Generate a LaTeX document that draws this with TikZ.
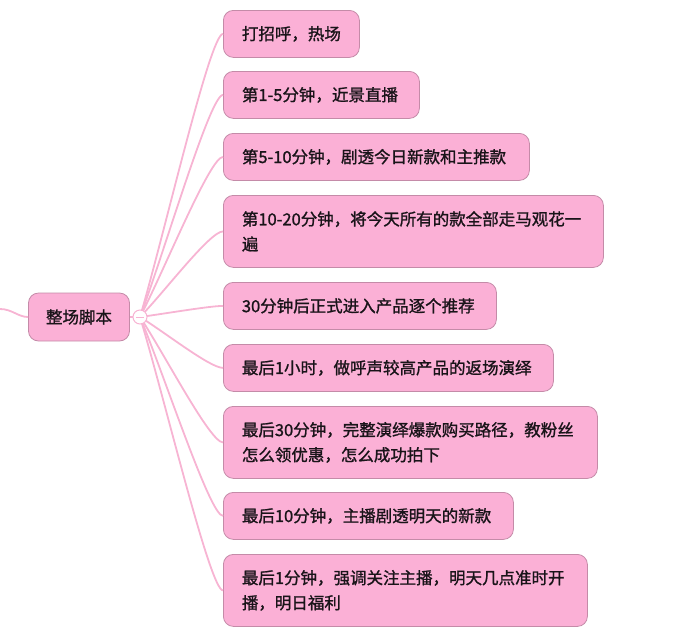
\documentclass[tikz,border=0pt]{standalone}
\usepackage{fontspec}
\setmainfont{Noto Sans CJK SC}[FakeBold=1.2]
\usetikzlibrary{calc}
\definecolor{boxfill}{RGB}{251,176,214}
\definecolor{boxline}{RGB}{196,139,168}
\definecolor{linkcol}{RGB}{247,180,211}
\definecolor{txt}{RGB}{25,20,25}
\tikzset{
  topic/.style={draw=boxline, line width=0.8pt, fill=boxfill, rounded corners=10pt,
    inner xsep=0pt, inner ysep=0pt, text width=#1, align=left, anchor=north west,
    font=\fontsize{16.5pt}{25pt}\selectfont, text=txt},
  onel/.style={minimum height=47pt},
  twol/.style={minimum height=72pt},
  link/.style={draw=linkcol, line width=1.8pt},
}
\begin{document}
\begin{tikzpicture}[x=1pt,y=-1pt]
\useasboundingbox (0,0) rectangle (690,635);
% root
\node[draw=boxline, line width=0.8pt, fill=boxfill, rounded corners=10pt,
  minimum width=101pt, minimum height=48pt, inner sep=0pt,
  font=\fontsize{16.5pt}{20pt}\selectfont, text=txt] (root) at (79,317) {整场脚本};
\coordinate (cc) at (140,317);
\coordinate (lft) at (0,309);
\newcommand{\child}[5]{% name, ytop, width, height-style, text
  \node[topic=#3pt-37pt, #4, inner xsep=18.5pt] (#1) at (223,#2) {#5};}
\child{b1}{10}{136}{onel}{打招呼，热场}
\child{b2}{71}{196}{onel}{第1-5分钟，近景直播}
\child{b3}{133}{306}{onel}{第5-10分钟，剧透今日新款和主推款}
\child{b4}{195}{380}{twol}{第10-20分钟，将今天所有的款全部走马观花一\\遍}
\child{b5}{282}{273}{onel}{30分钟后正式进入产品逐个推荐}
\child{b6}{344}{330}{onel}{最后1小时，做呼声较高产品的返场演绎}
\child{b7}{406}{374}{twol}{最后30分钟，完整演绎爆款购买路径，教粉丝\\怎么领优惠，怎么成功拍下}
\child{b8}{492}{290}{onel}{最后10分钟，主播剧透明天的新款}
\child{b9}{554}{364}{twol}{最后1分钟，强调关注主播，明天几点准时开\\播，明日福利}
% connectors
\draw[link] (lft) .. controls (12,309) and (18,317) .. (root.west);
\draw[link] (root.east) -- (cc);
\foreach \b in {b1,b2,b3,b4,b5,b6,b7,b8,b9}{
  \draw[link] (cc) .. controls ($(cc)!0.3!(\b.west)$) and ($(\b.west)+(-13,0)$) .. (\b.west);
}
% collapse button
\node[circle, draw=linkcol, line width=1pt, fill=white, minimum size=14pt, inner sep=0pt] (btn) at (cc) {};
\draw[linkcol, line width=0.8pt] ($(btn.center)+(-4,0)$) -- ($(btn.center)+(4,0)$);
\end{tikzpicture}
\end{document}
